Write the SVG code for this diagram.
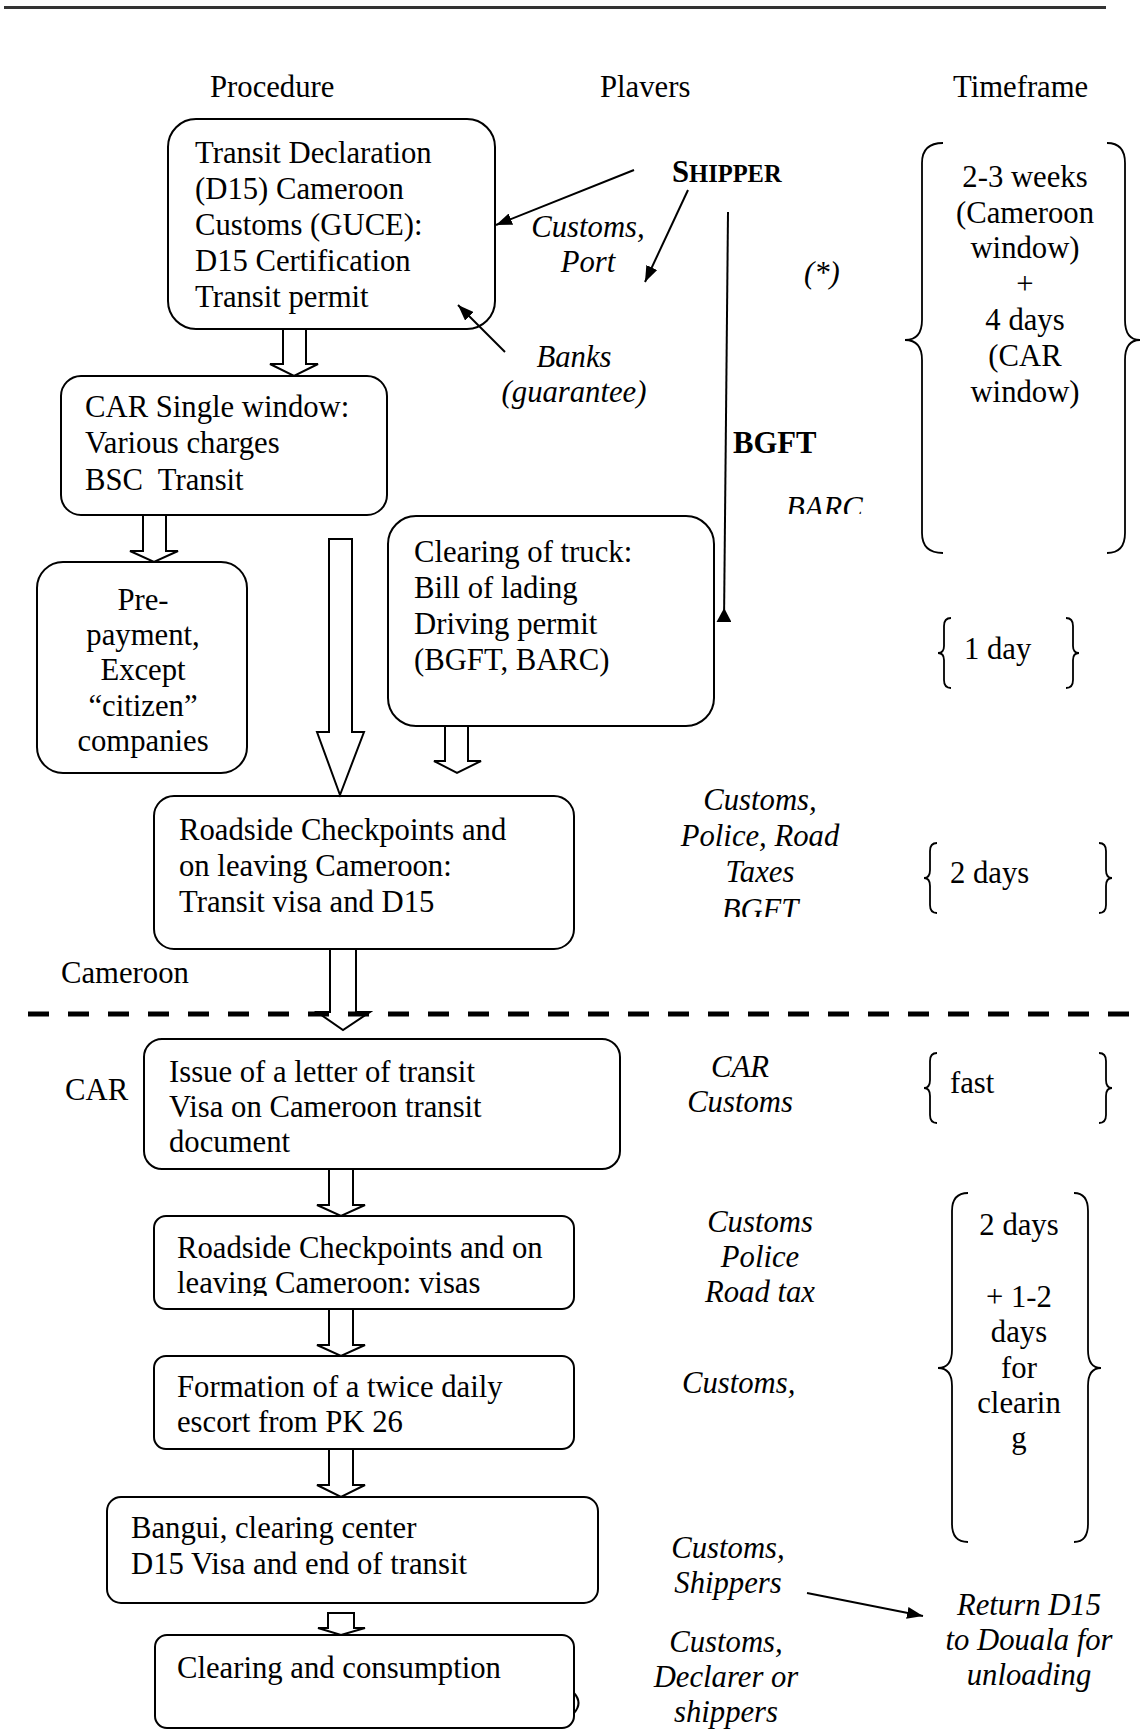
<svg xmlns="http://www.w3.org/2000/svg" width="1144" height="1730" viewBox="0 0 1144 1730">
<style>
text{font-family:"Liberation Serif","Times New Roman",serif;font-size:30.7px;fill:#000}
.i{font-style:italic}
.b{font-weight:bold}
.m{text-anchor:middle}
.box{fill:#fff;stroke:#000;stroke-width:2}
.blk{fill:#fff;stroke:#000;stroke-width:2;stroke-linejoin:miter}
.ln{fill:none;stroke:#000;stroke-width:2}
.br{fill:none;stroke:#000;stroke-width:1.8}
</style>
<defs>
<marker id="ah" viewBox="0 0 16 12" refX="16" refY="6" markerWidth="16" markerHeight="12" markerUnits="userSpaceOnUse" orient="auto"><path d="M0,0 L16,6 L0,12 z" fill="#000"/></marker>
<marker id="ahs" viewBox="0 0 14 15" refX="0" refY="7.5" markerWidth="14" markerHeight="15" markerUnits="userSpaceOnUse" orient="auto"><path d="M0,0 L14,7.5 L0,15 z" fill="#000"/></marker>
<clipPath id="cBarc"><rect x="760" y="480" width="140" height="34"/></clipPath>
<clipPath id="cBgft"><rect x="680" y="890" width="160" height="27"/></clipPath>
<clipPath id="cVisas"><rect x="160" y="1220" width="400" height="76"/></clipPath>
</defs>

<rect x="4" y="6" width="1102" height="3" fill="#333"/>

<g id="headers">
<text x="210" y="97">Procedure</text>
<text x="600" y="97">Plavers</text>
<text x="953" y="97">Timeframe</text>
</g>

<g id="n-transit-declaration">
<rect class="box" x="168" y="119" width="327" height="210" rx="28"/>
<text x="195" y="163">Transit Declaration</text>
<text x="195" y="199">(D15) Cameroon</text>
<text x="195" y="235">Customs (GUCE):</text>
<text x="195" y="271">D15 Certification</text>
<text x="195" y="307">Transit permit</text>
</g>

<g id="n-car-single-window">
<rect class="box" x="61" y="376" width="326" height="139" rx="20"/>
<text x="85" y="417">CAR Single window:</text>
<text x="85" y="453">Various charges</text>
<text x="85" y="490" xml:space="preserve">BSC  Transit</text>
</g>

<g id="n-prepayment">
<rect class="box" x="37" y="562" width="210" height="211" rx="26"/>
<text class="m" x="143" y="610">Pre-</text>
<text class="m" x="143" y="645">payment,</text>
<text class="m" x="143" y="680">Except</text>
<text class="m" x="143" y="716">“citizen”</text>
<text class="m" x="143" y="751">companies</text>
</g>

<g id="n-clearing-truck">
<rect class="box" x="388" y="516" width="326" height="210" rx="28"/>
<text x="414" y="562">Clearing of truck:</text>
<text x="414" y="598">Bill of lading</text>
<text x="414" y="634">Driving permit</text>
<text x="414" y="670">(BGFT, BARC)</text>
</g>

<g id="n-roadside-cameroon">
<rect class="box" x="154" y="796" width="420" height="153" rx="20"/>
<text x="179" y="840">Roadside Checkpoints and</text>
<text x="179" y="876">on leaving Cameroon:</text>
<text x="179" y="912">Transit visa and D15</text>
</g>

<g id="n-issue-letter">
<rect class="box" x="144" y="1039" width="476" height="130" rx="18"/>
<text x="169" y="1082">Issue of a letter of transit</text>
<text x="169" y="1117">Visa on Cameroon transit</text>
<text x="169" y="1152">document</text>
</g>

<g id="n-roadside-car">
<rect class="box" x="154" y="1216" width="420" height="93" rx="12"/>
<g clip-path="url(#cVisas)">
<text x="177" y="1258">Roadside Checkpoints and on</text>
<text x="177" y="1293">leaving Cameroon: visas</text>
</g>
</g>

<g id="n-escort">
<rect class="box" x="154" y="1356" width="420" height="93" rx="12"/>
<text x="177" y="1397">Formation of a twice daily</text>
<text x="177" y="1432">escort from PK 26</text>
</g>

<g id="n-bangui">
<rect class="box" x="107" y="1497" width="491" height="106" rx="14"/>
<text x="131" y="1538">Bangui, clearing center</text>
<text x="131" y="1574">D15 Visa and end of transit</text>
</g>

<g id="n-consumption">
<rect class="box" x="155" y="1635" width="419" height="93" rx="12"/>
<text x="177" y="1678">Clearing and consumption</text>
<path class="ln" d="M574,1693 Q583,1703 574,1713"/>
</g>

<g id="connectors">
<polygon class="blk" points="283,329 283,364 270,364 294,376 318,364 306,364 306,329"/>
<polygon class="blk" points="143,515 143,551 130,551 154,562 178,551 166,551 166,515"/>
<polygon class="blk" points="329,539 329,732 317,732 340,795 364,732 352,732 352,539"/>
<polygon class="blk" points="445,726 445,761 434,761 457,773 481,761 468,761 468,726"/>
<polygon class="blk" points="330,949 330,1012 317,1012 343,1030 370,1012 356,1012 356,949"/>
<polygon class="blk" points="329,1169 329,1205 317,1205 341,1216 365,1205 353,1205 353,1169"/>
<polygon class="blk" points="329,1309 329,1345 317,1345 341,1356 365,1345 353,1345 353,1309"/>
<polygon class="blk" points="329,1449 329,1485 317,1485 341,1497 365,1485 353,1485 353,1449"/>
<polygon class="blk" points="328,1613 328,1628 318,1628 341,1635 365,1628 354,1628 354,1613"/>
<line class="ln" x1="634" y1="170" x2="496" y2="225" marker-end="url(#ah)"/>
<line class="ln" x1="688" y1="190" x2="645" y2="282" marker-end="url(#ah)"/>
<line class="ln" x1="505" y1="352" x2="458" y2="305" marker-end="url(#ah)"/>
<path class="ln" d="M724,622 L728,212" marker-start="url(#ahs)"/>
<line class="ln" x1="807" y1="1593" x2="923" y2="1616" marker-end="url(#ah)"/>
</g>

<line x1="28" y1="1014" x2="1144" y2="1014" stroke="#000" stroke-width="5" stroke-dasharray="21 19"/>

<g id="players">
<text class="b" x="672" y="182">S<tspan style="font-size:24.5px">HIPPER</tspan></text>
<text class="i m" x="588" y="237">Customs,</text>
<text class="i m" x="588" y="272">Port</text>
<text class="i" x="804" y="283">(*)</text>
<text class="i m" x="574" y="367">Banks</text>
<text class="i m" x="574" y="402">(guarantee)</text>
<text class="b" x="733" y="453">BGFT</text>
<text class="i" x="786" y="518" clip-path="url(#cBarc)">BARC</text>
<text class="i m" x="760" y="810">Customs,</text>
<text class="i m" x="760" y="846">Police, Road</text>
<text class="i m" x="760" y="882">Taxes</text>
<text class="i m" x="760" y="920" clip-path="url(#cBgft)">BGFT</text>
<text x="61" y="983">Cameroon</text>
<text x="65" y="1100">CAR</text>
<text class="i m" x="740" y="1077">CAR</text>
<text class="i m" x="740" y="1112">Customs</text>
<text class="i m" x="760" y="1232">Customs</text>
<text class="i m" x="760" y="1267">Police</text>
<text class="i m" x="760" y="1302">Road tax</text>
<text class="i" x="682" y="1393">Customs,</text>
<text class="i m" x="728" y="1558">Customs,</text>
<text class="i m" x="728" y="1593">Shippers</text>
<text class="i m" x="1029" y="1615">Return D15</text>
<text class="i m" x="1029" y="1650">to Douala for</text>
<text class="i m" x="1029" y="1685">unloading</text>
<text class="i m" x="726" y="1652">Customs,</text>
<text class="i m" x="726" y="1687">Declarer or</text>
<text class="i m" x="726" y="1722">shippers</text>
</g>

<g id="timeframes">
<path class="br" d="M943,143 Q922,143 922,163 L922,320 Q922,340 905,340 Q922,340 922,360 L922,533 Q922,553 943,553"/>
<path class="br" d="M1107,143 Q1125,143 1125,163 L1125,320 Q1125,340 1140,340 Q1125,340 1125,360 L1125,533 Q1125,553 1107,553"/>
<text class="m" x="1025" y="187">2-3 weeks</text>
<text class="m" x="1025" y="223">(Cameroon</text>
<text class="m" x="1025" y="258">window)</text>
<text class="m" x="1025" y="294">+</text>
<text class="m" x="1025" y="330">4 days</text>
<text class="m" x="1025" y="366">(CAR</text>
<text class="m" x="1025" y="402">window)</text>

<path class="br" d="M951,618 Q944,618 944,626 L944,646 Q944,653 938,653 Q944,653 944,660 L944,680 Q944,688 951,688"/>
<path class="br" d="M1066,618 Q1073,618 1073,626 L1073,646 Q1073,653 1079,653 Q1073,653 1073,660 L1073,680 Q1073,688 1066,688"/>
<text x="964" y="659">1 day</text>

<path class="br" d="M937,843 Q930,843 930,851 L930,870 Q930,878 924,878 Q930,878 930,886 L930,905 Q930,913 937,913"/>
<path class="br" d="M1099,843 Q1106,843 1106,851 L1106,870 Q1106,878 1112,878 Q1106,878 1106,886 L1106,905 Q1106,913 1099,913"/>
<text x="950" y="883">2 days</text>

<path class="br" d="M937,1053 Q930,1053 930,1061 L930,1080 Q930,1088 924,1088 Q930,1088 930,1096 L930,1115 Q930,1123 937,1123"/>
<path class="br" d="M1099,1053 Q1106,1053 1106,1061 L1106,1080 Q1106,1088 1112,1088 Q1106,1088 1106,1096 L1106,1115 Q1106,1123 1099,1123"/>
<text x="950" y="1093">fast</text>

<path class="br" d="M968,1193 Q952,1193 952,1211 L952,1350 Q952,1368 938,1368 Q952,1368 952,1386 L952,1524 Q952,1542 968,1542"/>
<path class="br" d="M1074,1193 Q1088,1193 1088,1211 L1088,1350 Q1088,1368 1101,1368 Q1088,1368 1088,1386 L1088,1524 Q1088,1542 1074,1542"/>
<text class="m" x="1019" y="1235">2 days</text>
<text class="m" x="1019" y="1307">+ 1-2</text>
<text class="m" x="1019" y="1342">days</text>
<text class="m" x="1019" y="1378">for</text>
<text class="m" x="1019" y="1413">clearin</text>
<text class="m" x="1019" y="1448">g</text>
</g>
</svg>
